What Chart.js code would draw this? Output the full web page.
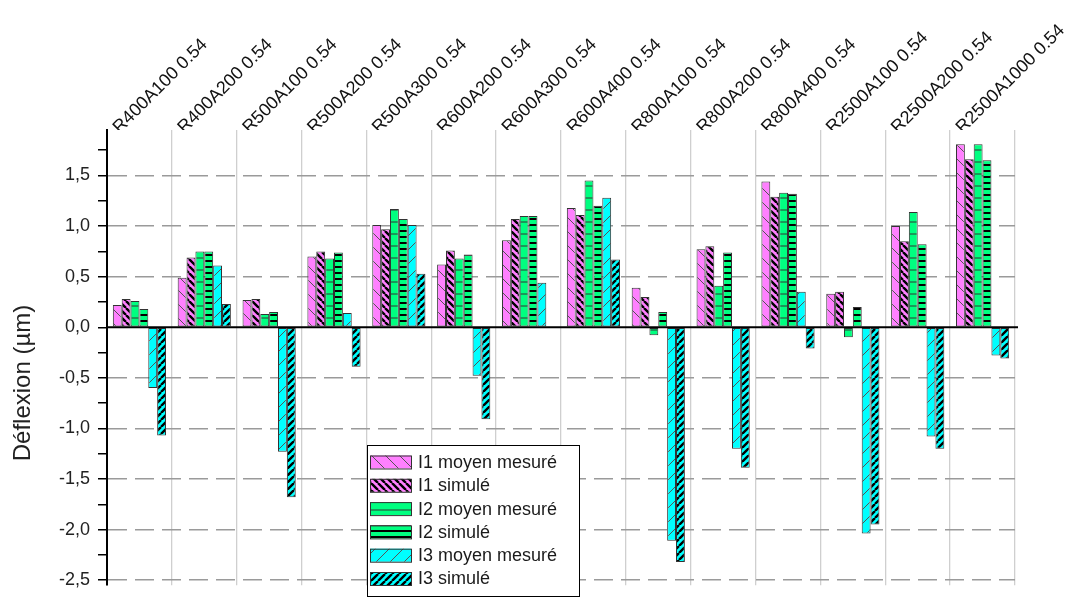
<!DOCTYPE html>
<html>
<head>
<meta charset="utf-8">
<script src="https://cdn.jsdelivr.net/npm/chart.js@4.4.1/dist/chart.umd.min.js"></script>
<style>
  body { margin: 0; background: #fff; }
</style>
</head>
<body>
<canvas id="myChart" width="1065" height="604"></canvas>
<script>
let categories = ['R400A100 0.54', 'R400A200 0.54', 'R500A100 0.54', 'R500A200 0.54', 'R500A300 0.54',
    'R600A200 0.54', 'R600A300 0.54', 'R600A400 0.54', 'R800A100 0.54', 'R800A200 0.54',
    'R800A400 0.54', 'R2500A100 0.54', 'R2500A200 0.54', 'R2500A1000 0.54']
let seriesNames = ['I1 moyen mesuré', 'I1 simulé', 'I2 moyen mesuré', 'I2 simulé', 'I3 moyen mesuré', 'I3 simulé']
let i1Mesure = [0.22, 0.49, 0.27, 0.70, 1.01, 0.62, 0.86, 1.18, 0.39, 0.77, 1.44, 0.33, 1.00, 1.81]
let i1Simule = [0.28, 0.69, 0.28, 0.75, 0.97, 0.76, 1.07, 1.11, 0.30, 0.80, 1.29, 0.35, 0.85, 1.66]
let i2Mesure = [0.26, 0.75, 0.13, 0.68, 1.17, 0.68, 1.10, 1.45, -0.08, 0.41, 1.33, -0.10, 1.14, 1.81]
let i2Simule = [0.18, 0.75, 0.15, 0.74, 1.07, 0.72, 1.10, 1.20, 0.15, 0.74, 1.32, 0.20, 0.82, 1.65]
let i3Mesure = [-0.60, 0.61, -1.23, 0.14, 1.01, -0.48, 0.44, 1.28, -2.11, -1.20, 0.35, -2.04, -1.08, -0.28]
let i3Simule = [-1.07, 0.23, -1.68, -0.39, 0.53, -0.91, null, 0.67, -2.32, -1.39, -0.21, -1.95, -1.20, -0.31]
let yTicks = [-2.5, -2.25, -2, -1.75, -1.5, -1.25, -1, -0.75, -0.5, -0.25, 0, 0.25, 0.5, 0.75, 1, 1.25, 1.5, 1.75]
let yMin = -2.55
let yMax = 1.95
let yTitle = 'Déflexion (µm)'

const canvas = document.getElementById('myChart')
const ctx = canvas.getContext('2d')

function makePattern(bg, kind, gap, lw, col) {
    const c = document.createElement('canvas')
    c.width = gap
    c.height = gap
    const g = c.getContext('2d')
    g.fillStyle = bg
    g.fillRect(0, 0, gap, gap)
    g.strokeStyle = col
    g.lineWidth = lw
    g.beginPath()
    if (kind === 'h') {
        g.moveTo(0, gap / 2)
        g.lineTo(gap, gap / 2)
    }
    for (let k = -1; k <= 1; k++) {
        if (kind === 'back') {
            g.moveTo(k * gap, 0)
            g.lineTo(k * gap + gap, gap)
        }
        if (kind === 'fwd') {
            g.moveTo(k * gap, gap)
            g.lineTo(k * gap + gap, 0)
        }
    }
    g.stroke()
    return ctx.createPattern(c, 'repeat')
}

const magenta = '#FF80FF'
const green = '#00FF80'
const cyan = '#00FFFF'
let fills = [
    makePattern(magenta, 'back', 14, 1, '#555'),
    makePattern(magenta, 'back', 7, 2.4, '#000'),
    makePattern(green, 'h', 12, 1, '#333'),
    makePattern(green, 'h', 6, 2, '#000'),
    makePattern(cyan, 'fwd', 14, 1, '#555'),
    makePattern(cyan, 'fwd', 7, 2.4, '#000')
]
let values = [i1Mesure, i1Simule, i2Mesure, i2Simule, i3Mesure, i3Simule]

let datasets = values.map((v, i) => ({
    label: seriesNames[i],
    data: v,
    backgroundColor: fills[i],
    borderColor: '#333',
    borderWidth: 1,
    borderSkipped: false,
    categoryPercentage: 0.82,
    barPercentage: 1
}))

// zero line, y title and the boxed legend inside the plot
const extras = {
    id: 'extras',
    afterDatasetsDraw(chart) {
        const c = chart.ctx
        const a = chart.chartArea
        const y0 = chart.scales.y.getPixelForValue(0)
        c.save()
        c.strokeStyle = '#000'
        c.lineWidth = 2
        c.beginPath()
        c.moveTo(a.left, y0)
        c.lineTo(a.right + 3, y0)
        c.stroke()

        c.fillStyle = '#222'
        c.font = '24px Arial, "Liberation Sans"'
        c.textAlign = 'center'
        c.textBaseline = 'middle'
        c.translate(23, 383)
        c.rotate(-Math.PI / 2)
        c.fillText(yTitle, 0, 0)
        c.restore()

        c.save()
        let lx = 367, ly = 445, lw = 212, lh = 151
        c.fillStyle = '#fff'
        c.fillRect(lx, ly, lw, lh)
        c.strokeStyle = '#000'
        c.lineWidth = 1
        c.strokeRect(lx + 0.5, ly + 0.5, lw, lh)
        c.font = '18px Arial, "Liberation Sans"'
        c.textBaseline = 'middle'
        chart.data.datasets.forEach((ds, i) => {
            let cy = 462 + i * 23.3
            c.fillStyle = ds.backgroundColor
            c.fillRect(370, cy - 6.5, 41, 13)
            c.strokeStyle = '#333'
            c.strokeRect(370.5, cy - 6, 41, 13)
            c.fillStyle = '#1a1a1a'
            c.fillText(ds.label, 418, cy + 1)
        })
        c.restore()
    }
}

const myChart = new Chart(ctx, {
    type: 'bar',
    data: {
        labels: categories,
        datasets: datasets
    },
    options: {
        responsive: false,
        animation: false,
        devicePixelRatio: 1,
        layout: {
            padding: { left: 0, right: 50, top: 0, bottom: 4 }
        },
        plugins: {
            legend: { display: false },
            tooltip: { enabled: false }
        },
        scales: {
            x: {
                position: 'top',
                afterFit: s => {
                    s.height = 130
                    s.paddingLeft = 0
                    s.paddingRight = 0
                },
                grid: {
                    offset: true,
                    color: '#cfcfcf',
                    lineWidth: 1.3,
                    drawTicks: false
                },
                border: { display: false },
                ticks: {
                    autoSkip: false,
                    minRotation: 45,
                    maxRotation: 45,
                    labelOffset: -8,
                    padding: -8,
                    color: '#111',
                    font: { family: 'Arial, "Liberation Sans"', size: 18 }
                }
            },
            y: {
                min: yMin,
                max: yMax,
                afterFit: s => { s.width = 107 },
                afterBuildTicks: s => { s.ticks = yTicks.map(v => ({ value: v })) },
                grid: {
                    color: c => {
                        let v = c.tick ? c.tick.value : 1
                        if (Math.abs(v) < 1e-9) return 'rgba(0,0,0,0)'
                        return Math.abs(v * 2 - Math.round(v * 2)) < 1e-9 ? '#9a9a9a' : 'rgba(0,0,0,0)'
                    },
                    lineWidth: 1.5,
                    tickColor: '#000',
                    tickLength: 9,
                    tickWidth: 1.5
                },
                border: { display: true, color: '#000', width: 2, dash: [19, 8] },
                ticks: {
                    padding: 8,
                    color: '#222',
                    font: { family: 'Arial, "Liberation Sans"', size: 18 },
                    callback: v => {
                        if (Math.abs(v * 2 - Math.round(v * 2)) > 1e-9) return ''
                        return v.toFixed(1).replace('.', ',')
                    }
                }
            }
        }
    },
    plugins: [extras]
})
</script>
</body>
</html>
